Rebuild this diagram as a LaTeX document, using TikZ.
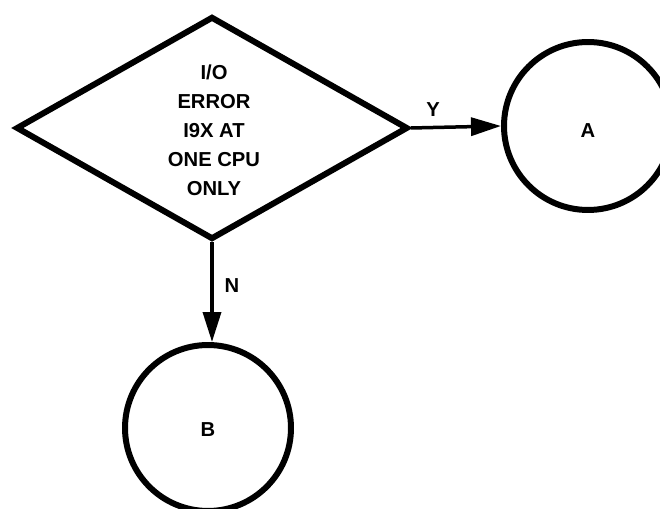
\documentclass[tikz,border=0pt]{standalone}
\usepackage{fontspec}
\setmainfont{Liberation Sans}
\usepackage{tikz}
\usetikzlibrary{arrows.meta, shapes.geometric}

\begin{document}
\begin{tikzpicture}[x=0.02cm, y=-0.02cm, line width=1.2mm,
	every node/.style={font=\fontsize{11.5}{16.5}\selectfont\bfseries, align=center}]
 			
 			\useasboundingbox (0,0) rectangle (660,509);
 			
 			\node[draw, diamond, inner sep=0pt, minimum width=7.84cm, minimum height=4.46cm] (dia) at (212,128) {};
 			\node (qtext) at (214,130) {I/O\\ERROR\\I9X AT\\ONE CPU\\ONLY};
 			\node[draw, circle, minimum size=3.36cm] (A) at (588,126) {};
 			\node[draw, circle, minimum size=3.32cm] (B) at (208,428) {};
 			\node (Alab) at (588,131) {A};
 			\node (Blab) at (208,430) {B};
 			
 			\node (ylab) at (433,110) {Y};
 			\node (nlab) at (232,286) {N};
 			
 			
 			
 			\draw[>={Triangle[length=6mm, width=3.6mm]}, ->, line width=0.7mm] (dia.east) -- (A.west);
 			\draw[>={Triangle[length=6mm, width=3.6mm]}, ->, line width=0.7mm] (dia.south) -- (dia.south |- B.north);
 		\end{tikzpicture}
\end{document}
